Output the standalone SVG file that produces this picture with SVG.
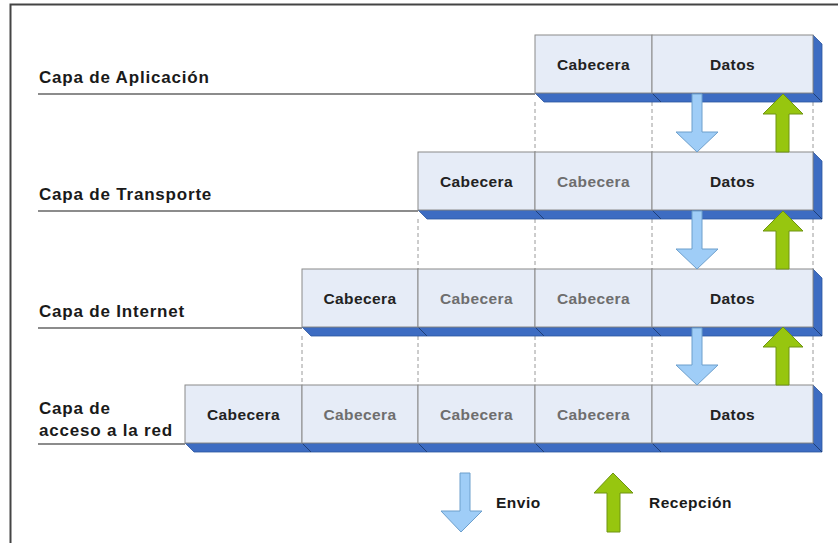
<svg xmlns="http://www.w3.org/2000/svg" width="838" height="543" viewBox="0 0 838 543">
  <style>
    .face { fill: #e6ecf7; stroke: #8a8a8a; stroke-width: 1; }
    .band { fill: #3d6cc2; stroke: #2c569f; stroke-width: 0.8; }
    .seam { stroke: #1f3f78; stroke-width: 1; }
    .lbl { font-family: "Liberation Sans", Arial, sans-serif; font-weight: bold; font-size: 17px; fill: #1a1a1a; letter-spacing: 0.8px; }
    .cell { font-family: "Liberation Sans", Arial, sans-serif; font-weight: bold; font-size: 15.5px; text-anchor: middle; letter-spacing: 0.4px; }
    .new { fill: #222222; }
    .old { fill: #6e6e6e; }
    .rule { stroke: #8c8c8c; stroke-width: 2; }
    .dash { stroke: #9a9a9a; stroke-width: 1; stroke-dasharray: 4 3; fill: none; }
    .down { fill: #9fcdf7; stroke: #6d9fcc; stroke-width: 1; }
    .up { fill: #97c60f; stroke: #6e9412; stroke-width: 1; }
  </style>

  <rect x="0" y="0" width="838" height="543" fill="#ffffff"/>
  <!-- outer frame (continues past the right and bottom edges) -->
  <rect x="10.5" y="4.5" width="840" height="560" fill="none" stroke="#444" stroke-width="2"/>

  <!-- layer names with their underline rules -->
  <g id="label-aplicacion">
    <text class="lbl" x="39" y="83">Capa de Aplicación</text>
    <line class="rule" x1="38" y1="94" x2="535" y2="94"/>
  </g>
  <g id="label-transporte">
    <text class="lbl" x="39" y="200">Capa de Transporte</text>
    <line class="rule" x1="38" y1="211" x2="418" y2="211"/>
  </g>
  <g id="label-internet">
    <text class="lbl" x="39" y="317">Capa de Internet</text>
    <line class="rule" x1="38" y1="328" x2="302" y2="328"/>
  </g>
  <g id="label-red">
    <text class="lbl" x="39" y="414">Capa de</text>
    <text class="lbl" x="39" y="436">acceso a la red</text>
    <line class="rule" x1="38" y1="444" x2="185" y2="444"/>
  </g>

  <!-- dashed column guides between the layers -->
  <g id="connectors">
    <line class="dash" x1="535" y1="102" x2="535" y2="152"/>
    <line class="dash" x1="652" y1="102" x2="652" y2="152"/>
    <line class="dash" x1="813" y1="102" x2="813" y2="152"/>

    <line class="dash" x1="418" y1="219" x2="418" y2="269"/>
    <line class="dash" x1="535" y1="219" x2="535" y2="269"/>
    <line class="dash" x1="652" y1="219" x2="652" y2="269"/>
    <line class="dash" x1="813" y1="219" x2="813" y2="269"/>

    <line class="dash" x1="302" y1="336" x2="302" y2="385"/>
    <line class="dash" x1="418" y1="336" x2="418" y2="385"/>
    <line class="dash" x1="535" y1="336" x2="535" y2="385"/>
    <line class="dash" x1="652" y1="336" x2="652" y2="385"/>
    <line class="dash" x1="813" y1="336" x2="813" y2="385"/>
  </g>

  <!-- Application layer -->
  <g id="row-aplicacion">
    <polygon class="band" points="535,93 813,93 822,102 544,102"/>
    <polygon class="band" points="813,35 822,44 822,102 813,93"/>
    <line class="seam" x1="652" y1="93" x2="661" y2="102"/>
    <line class="seam" x1="813" y1="93" x2="822" y2="102"/>
    <rect class="face" x="535" y="35" width="117" height="58"/>
    <rect class="face" x="652" y="35" width="161" height="58"/>
    <text class="cell new" x="593.5" y="69.5">Cabecera</text>
    <text class="cell new" x="732.5" y="69.5">Datos</text>
  </g>

  <!-- Transport layer -->
  <g id="row-transporte">
    <polygon class="band" points="418,210 813,210 822,219 427,219"/>
    <polygon class="band" points="813,152 822,161 822,219 813,210"/>
    <line class="seam" x1="535" y1="210" x2="544" y2="219"/>
    <line class="seam" x1="652" y1="210" x2="661" y2="219"/>
    <line class="seam" x1="813" y1="210" x2="822" y2="219"/>
    <rect class="face" x="418" y="152" width="117" height="58"/>
    <rect class="face" x="535" y="152" width="117" height="58"/>
    <rect class="face" x="652" y="152" width="161" height="58"/>
    <text class="cell new" x="476.5" y="186.5">Cabecera</text>
    <text class="cell old" x="593.5" y="186.5">Cabecera</text>
    <text class="cell new" x="732.5" y="186.5">Datos</text>
  </g>

  <!-- Internet layer -->
  <g id="row-internet">
    <polygon class="band" points="302,327 813,327 822,336 311,336"/>
    <polygon class="band" points="813,269 822,278 822,336 813,327"/>
    <line class="seam" x1="418" y1="327" x2="427" y2="336"/>
    <line class="seam" x1="535" y1="327" x2="544" y2="336"/>
    <line class="seam" x1="652" y1="327" x2="661" y2="336"/>
    <line class="seam" x1="813" y1="327" x2="822" y2="336"/>
    <rect class="face" x="302" y="269" width="116" height="58"/>
    <rect class="face" x="418" y="269" width="117" height="58"/>
    <rect class="face" x="535" y="269" width="117" height="58"/>
    <rect class="face" x="652" y="269" width="161" height="58"/>
    <text class="cell new" x="360" y="303.5">Cabecera</text>
    <text class="cell old" x="476.5" y="303.5">Cabecera</text>
    <text class="cell old" x="593.5" y="303.5">Cabecera</text>
    <text class="cell new" x="732.5" y="303.5">Datos</text>
  </g>

  <!-- Network access layer -->
  <g id="row-red">
    <polygon class="band" points="185,443 813,443 822,452 194,452"/>
    <polygon class="band" points="813,385 822,394 822,452 813,443"/>
    <line class="seam" x1="302" y1="443" x2="311" y2="452"/>
    <line class="seam" x1="418" y1="443" x2="427" y2="452"/>
    <line class="seam" x1="535" y1="443" x2="544" y2="452"/>
    <line class="seam" x1="652" y1="443" x2="661" y2="452"/>
    <line class="seam" x1="813" y1="443" x2="822" y2="452"/>
    <rect class="face" x="185" y="385" width="117" height="58"/>
    <rect class="face" x="302" y="385" width="116" height="58"/>
    <rect class="face" x="418" y="385" width="117" height="58"/>
    <rect class="face" x="535" y="385" width="117" height="58"/>
    <rect class="face" x="652" y="385" width="161" height="58"/>
    <text class="cell new" x="243.5" y="419.5">Cabecera</text>
    <text class="cell old" x="360" y="419.5">Cabecera</text>
    <text class="cell old" x="476.5" y="419.5">Cabecera</text>
    <text class="cell old" x="593.5" y="419.5">Cabecera</text>
    <text class="cell new" x="732.5" y="419.5">Datos</text>
  </g>

  <!-- send (down) and receive (up) arrows between layers -->
  <g id="arrows">
    <polygon class="down" points="692,94 702,94 702,132 718,132 697,152 676,132 692,132"/>
    <polygon class="down" points="692,211 702,211 702,249 718,249 697,269 676,249 692,249"/>
    <polygon class="down" points="692,328 702,328 702,365 718,365 697,385 676,365 692,365"/>

    <polygon class="up" points="776,152 789,152 789,114 803,114 783,94 763,114 776,114"/>
    <polygon class="up" points="776,269 789,269 789,231 803,231 783,211 763,231 776,231"/>
    <polygon class="up" points="776,385 789,385 789,347 803,347 783,327 763,347 776,347"/>
  </g>

  <!-- legend -->
  <g id="legend-envio">
    <polygon class="down" points="460,473 470,473 470,511 482,511 461,532 441,511 460,511"/>
    <text class="lbl" x="496" y="508" style="font-size:15.5px;letter-spacing:0.5px">Envio</text>
  </g>
  <g id="legend-recepcion">
    <polygon class="up" points="607,532 620,532 620,493 633,493 613,473 594,493 607,493"/>
    <text class="lbl" x="649" y="508" style="font-size:15.5px;letter-spacing:0.5px">Recepción</text>
  </g>
</svg>
